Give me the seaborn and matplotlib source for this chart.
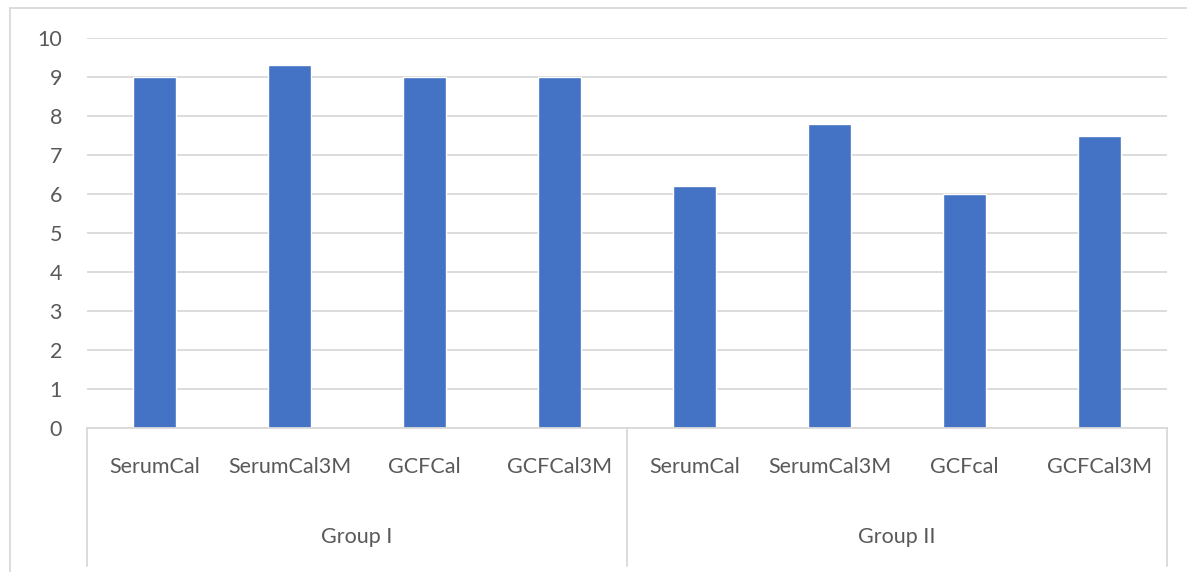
import matplotlib
matplotlib.use("Agg")
import matplotlib.pyplot as plt
from matplotlib.lines import Line2D
import seaborn as sns
import pandas as pd

# Data
groups = ["Group I"] * 4 + ["Group II"] * 4
measures = ["SerumCal", "SerumCal3M", "GCFCal", "GCFCal3M",
            "SerumCal", "SerumCal3M", "GCFcal", "GCFCal3M"]
values = [9.0, 9.3, 9.0, 9.0, 6.2, 7.8, 6.0, 7.5]
y_ticks = list(range(0, 11))

df = pd.DataFrame({"slot": list(range(len(values))), "value": values})

sns.set_theme(style="white")
plt.rcParams["font.family"] = ["Lato", "DejaVu Sans"]

W, H = 1187, 572
fig = plt.figure(figsize=(W / 100, H / 100), dpi=100)
fig.patch.set_facecolor("white")

# plot area in pixel terms
left, right, top, bottom = 87, 1167, 38, 428
ax = fig.add_axes([left / W, 1 - bottom / H, (right - left) / W, (bottom - top) / H])

sns.barplot(data=df, x="slot", y="value", color="#4472C4", width=0.32,
            saturation=1, ax=ax, native_scale=False)

grid_c = "#D9D9D9"
text_c = "#595959"
fs = 15.5
ax.set_ylim(0, 10)
ax.set_xlim(-0.5, len(values) - 0.5)
ax.set_yticks(y_ticks)
ax.set_yticklabels([str(t) for t in y_ticks], fontsize=fs, color=text_c)
ax.tick_params(axis="y", length=0, pad=18)
ax.set_xticks([])
ax.set_xlabel("")
ax.set_ylabel("")
ax.yaxis.grid(True, color=grid_c, linewidth=1.3)
ax.set_axisbelow(True)
for s in ["top", "right", "left"]:
    ax.spines[s].set_visible(False)
ax.spines["bottom"].set_color(grid_c)
ax.spines["bottom"].set_linewidth(1.3)

# multi-level category axis
trans = ax.get_xaxis_transform()
axis_h = bottom - top
sep_bottom = -(566 - bottom) / axis_h
for xs in [-0.5, 3.5, 7.5]:
    ax.add_line(Line2D([xs, xs], [0, sep_bottom], transform=trans, color=grid_c,
                       linewidth=1.3, clip_on=False))

cat_y = -(467 - bottom) / axis_h
for i, m in enumerate(measures):
    ax.text(i, cat_y, m, transform=trans, ha="center", va="center",
            fontsize=fs, color=text_c)

grp_y = -(537 - bottom) / axis_h
for g, center in [("Group I", 1.5), ("Group II", 5.5)]:
    ax.text(center, grp_y, g, transform=trans, ha="center", va="center",
            fontsize=fs, color=text_c)

# chart frame
frame_c = "#D9D9D9"
fig.add_artist(Line2D([10 / W, 10 / W], [1 - 8 / H, 0], transform=fig.transFigure,
                      color=frame_c, linewidth=1.3))
fig.add_artist(Line2D([10 / W, 1], [1 - 8 / H, 1 - 8 / H], transform=fig.transFigure,
                      color=frame_c, linewidth=1.3))

fig.savefig("out.png", dpi=100)
